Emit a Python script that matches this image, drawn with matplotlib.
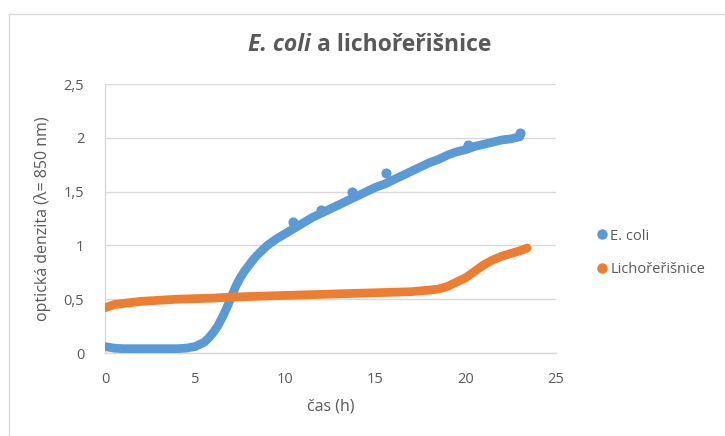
import matplotlib
matplotlib.use("Agg")
import matplotlib.pyplot as plt
from matplotlib.lines import Line2D
from matplotlib.patches import Rectangle
from matplotlib.ticker import FuncFormatter

# ---- data ----
ecoli_t = [0, 0.5, 1, 1.5, 2, 2.5, 3, 3.5, 4, 4.5, 5, 5.5, 5.75, 6, 6.25, 6.5, 6.75,
           7, 7.25, 7.5, 7.75, 8, 8.25, 8.5, 9, 9.5, 10, 10.5, 11, 11.5, 12, 12.5,
           13, 13.5, 14, 14.5, 15, 15.5, 16, 16.5, 17, 17.5, 18, 18.5, 19, 19.5,
           20, 20.5, 21, 21.5, 22, 22.5, 23]
ecoli_od = [0.06, 0.045, 0.04, 0.04, 0.04, 0.04, 0.04, 0.04, 0.04, 0.045, 0.06, 0.10,
            0.14, 0.19, 0.25, 0.33, 0.42, 0.52, 0.62, 0.70, 0.765, 0.82, 0.875, 0.92,
            1.00, 1.06, 1.11, 1.16, 1.21, 1.26, 1.30, 1.34, 1.38, 1.42, 1.46, 1.50,
            1.54, 1.57, 1.61, 1.65, 1.69, 1.73, 1.77, 1.80, 1.84, 1.87, 1.89, 1.92,
            1.94, 1.96, 1.98, 1.99, 2.01]
ecoli_spike_t = [10.4, 12.0, 13.7, 15.6, 20.1, 23.0]
ecoli_spike_od = [1.22, 1.33, 1.50, 1.67, 1.93, 2.04]

cress_t = [0, 0.5, 1, 1.5, 2, 2.5, 3, 3.5, 4, 5, 6, 7, 8, 9, 10, 11, 12, 13, 14,
           15, 16, 17, 17.5, 18, 18.5, 19, 19.5, 20, 20.5, 21, 21.5, 22, 22.5, 23, 23.4]
cress_od = [0.42, 0.45, 0.46, 0.47, 0.48, 0.485, 0.49, 0.495, 0.50, 0.505, 0.51, 0.52,
            0.525, 0.53, 0.535, 0.54, 0.545, 0.55, 0.555, 0.56, 0.565, 0.57, 0.578,
            0.585, 0.595, 0.62, 0.66, 0.70, 0.76, 0.82, 0.865, 0.90, 0.925, 0.95, 0.975]

series_names = ["E. coli", "Lichořeřišnice"]
x_ticks = [0, 5, 10, 15, 20, 25]
y_ticks = [0, 0.5, 1, 1.5, 2, 2.5]

BLUE = "#5b9bd5"
ORANGE = "#ed7d31"
TXT = "#595959"
GRID = "#d9d9d9"
FONT = ["Open Sans", "DejaVu Sans"]

plt.rcParams["font.family"] = FONT

fig = plt.figure(figsize=(7.25, 4.36), dpi=100)
fig.patch.set_facecolor("white")
fig.add_artist(Rectangle((9 / 725, -0.05), 1.0, (436 - 14) / 436 + 0.05,
                         transform=fig.transFigure, fill=False,
                         edgecolor="#d9d9d9", linewidth=1))

ax = fig.add_axes([105 / 725, (436 - 353) / 436, (556 - 105) / 725, (353 - 84) / 436])
ax.set_xlim(0, 25)
ax.set_ylim(0, 2.5)
ax.set_xticks(x_ticks)
ax.set_yticks(y_ticks)
fmt = FuncFormatter(lambda v, p: (f"{v:g}").replace(".", ","))
ax.xaxis.set_major_formatter(fmt)
ax.yaxis.set_major_formatter(fmt)
ax.tick_params(axis="both", length=0, labelsize=10.5, colors=TXT)
ax.tick_params(axis="x", pad=14)
ax.tick_params(axis="y", pad=15)
ax.grid(axis="y", color=GRID, linewidth=1)
ax.set_axisbelow(True)
for s in ["top", "right"]:
    ax.spines[s].set_visible(False)
for s in ["left", "bottom"]:
    ax.spines[s].set_color(GRID)
    ax.spines[s].set_linewidth(1)

lw = 6.3
ax.plot(ecoli_t, ecoli_od, color=BLUE, lw=lw, solid_capstyle="round",
        solid_joinstyle="round", zorder=3)
ax.plot(ecoli_spike_t, ecoli_spike_od, ls="none", marker="o", ms=6.3,
        color=BLUE, zorder=3)
ax.plot(cress_t, cress_od, color=ORANGE, lw=lw, solid_capstyle="round",
        solid_joinstyle="round", zorder=4)

ax.set_xlabel("čas (h)", fontsize=11.5, color=TXT, labelpad=8)
ax.set_ylabel("optická denzita (λ= 850 nm)", fontsize=11.5, color=TXT, labelpad=9)

split_x = 311 / 725
title_y = 1 - 45 / 436
fig.text(split_x, title_y, "E. coli", fontsize=16.5, color=TXT,
         fontweight="bold", fontstyle="italic", ha="right", va="center")
fig.text(split_x, title_y, " a lichořeřišnice", fontsize=16.5, color=TXT,
         fontweight="bold", ha="left", va="center")

handles = [Line2D([], [], ls="none", marker="o", ms=6.5, color=BLUE),
           Line2D([], [], ls="none", marker="o", ms=6.5, color=ORANGE)]
fig.legend(handles, series_names, loc="center left",
           bbox_to_anchor=(584 / 725, 1 - 253 / 436), frameon=False,
           fontsize=10.5, labelcolor=TXT, handlelength=0.6, handletextpad=0.3,
           labelspacing=1.3)

fig.savefig("out.png", dpi=100, facecolor="white")
